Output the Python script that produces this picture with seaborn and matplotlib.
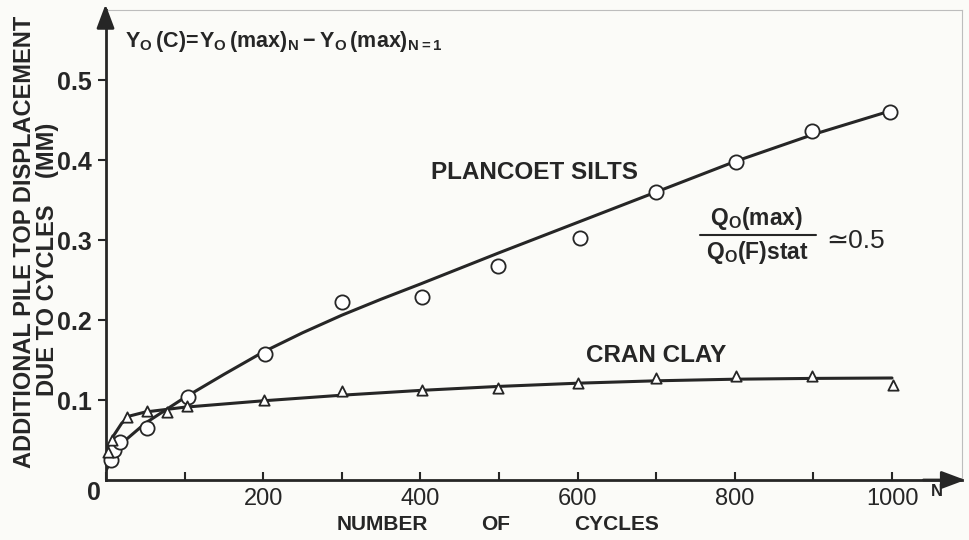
import matplotlib
matplotlib.use("Agg")
import matplotlib.pyplot as plt
import seaborn as sns
import pandas as pd

# ---- data ----
plan_n = [6, 10, 18, 52, 104, 202, 300, 402, 499, 603, 700, 801, 898, 997]
plan_y = [0.025, 0.038, 0.047, 0.065, 0.104, 0.158, 0.222, 0.229, 0.267, 0.302, 0.360, 0.397, 0.436, 0.460]

cran_n = [2, 8, 27, 52, 77, 103, 201, 300, 402, 499, 600, 700, 801, 898, 1001]
cran_y = [0.035, 0.050, 0.079, 0.086, 0.085, 0.093, 0.100, 0.111, 0.113, 0.115, 0.121, 0.127, 0.130, 0.130, 0.119]

plan_fit_n = [0, 10, 25, 50, 100, 150, 200, 250, 300, 350, 400, 500, 600, 700, 800, 900, 1000]
plan_fit_y = [0.012, 0.030, 0.050, 0.071, 0.103, 0.132, 0.160, 0.184, 0.206, 0.226, 0.245, 0.284, 0.322, 0.360, 0.398, 0.432, 0.462]

cran_fit_n = [0, 5, 10, 20, 30, 50, 75, 100, 150, 200, 300, 400, 500, 600, 700, 800, 900, 1000]
cran_fit_y = [0.036, 0.046, 0.056, 0.071, 0.080, 0.085, 0.088, 0.091, 0.095, 0.099, 0.106, 0.112, 0.117, 0.121, 0.124, 0.126, 0.127, 0.1275]

x_ticks = [0, 100, 200, 300, 400, 500, 600, 700, 800, 900, 1000]
x_tick_labels = ["", "", "200", "", "400", "", "600", "", "800", "", "1000"]
y_ticks = [0.1, 0.2, 0.3, 0.4, 0.5]
y_tick_labels = ["0.1", "0.2", "0.3", "0.4", "0.5"]

# ---- style ----
sns.set_theme(style="white")
plt.rcParams['font.family'] = ['Liberation Sans', 'DejaVu Sans']
plt.rcParams['mathtext.default'] = 'regular'
INK = "#262626"
BG = "#fbfbf8"

fig = plt.figure(figsize=(9.69, 5.40), dpi=100, facecolor=BG)
ax = fig.add_axes([106/969, 60/540, (962-106)/969, (480-10)/540])
ax.set_facecolor(BG)

x_max = (962 - 106) / 0.786
y_max = 470 / 800
ax.set_xlim(0, x_max)
ax.set_ylim(0, y_max)

pf = pd.DataFrame({"N": plan_fit_n, "Y": plan_fit_y})
cf = pd.DataFrame({"N": cran_fit_n, "Y": cran_fit_y})
pp = pd.DataFrame({"N": plan_n, "Y": plan_y})
cp = pd.DataFrame({"N": cran_n, "Y": cran_y})

sns.lineplot(data=pf, x="N", y="Y", ax=ax, color=INK, lw=2.2, zorder=2)
sns.lineplot(data=cf, x="N", y="Y", ax=ax, color=INK, lw=2.2, zorder=2)
sns.scatterplot(data=pp, x="N", y="Y", ax=ax, marker="o", s=105, facecolor="white",
                edgecolor=INK, linewidth=1.3, zorder=3, clip_on=False)
sns.scatterplot(data=cp, x="N", y="Y", ax=ax, marker="^", s=55, facecolor="white",
                edgecolor=INK, linewidth=1.3, zorder=3, clip_on=False)

# spines
for s in ["left", "bottom"]:
    ax.spines[s].set_color(INK)
    ax.spines[s].set_linewidth(2.0)
for s in ["top", "right"]:
    ax.spines[s].set_color("#bdbdbd")
    ax.spines[s].set_linewidth(0.8)

# arrows on axes
ax.annotate("", xy=(106/969 - 0.0005, 0.997), xytext=(106/969 - 0.0005, 0.95),
            xycoords="figure fraction",
            arrowprops=dict(arrowstyle="-|>,head_width=0.45,head_length=1.2", color=INK, lw=2))
ax.annotate("", xy=(0.999, 60/540), xytext=(0.95, 60/540), xycoords="figure fraction",
            arrowprops=dict(arrowstyle="-|>,head_width=0.45,head_length=1.2", color=INK, lw=2))

# ticks
ax.set_xticks(x_ticks)
ax.set_xticklabels(x_tick_labels)
ax.set_yticks(y_ticks)
ax.set_yticklabels(y_tick_labels)
ax.tick_params(axis="x", direction="in", length=6, width=1.5, color=INK, labelsize=17,
               labelcolor=INK, pad=6, bottom=True)
ax.tick_params(axis="y", direction="out", length=6, width=1.5, color=INK, labelsize=18,
               labelcolor=INK, pad=4, left=True)
for t in ax.get_yticklabels():
    t.set_fontweight("bold")
ax.set_xlabel("")
ax.set_ylabel("")

# origin "0" and "N"
fig.text(94/969, 1 - 493/540, "0", fontsize=18, fontweight="bold", color=INK,
         ha="center", va="center")
fig.text(937/969, 1 - 492/540, "N", fontsize=12, fontweight="bold", color=INK,
         ha="center", va="center")

# x axis title
for word, xp in [("NUMBER", 382), ("OF", 496), ("CYCLES", 617)]:
    fig.text(xp/969, 1 - 525/540, word, fontsize=15, fontweight="bold", color=INK,
             ha="center", va="center")

# y axis title (two lines)
fig.text(25/969, 1 - 242/540, "ADDITIONAL PILE TOP DISPLACEMENT", rotation=90,
         fontsize=17, fontweight="bold", color=INK, ha="center", va="center")
fig.text(48/969, 1 - 259/540, "DUE TO CYCLES    (MM)", rotation=90,
         fontsize=17, fontweight="bold", color=INK, ha="center", va="center")

# formula
fig.text(125/969, 1 - 42/540,
         r"$Y_O\,(C)\!=\!Y_O\,(max)_N - Y_O\,(max)_{N=1}$",
         fontsize=15.5, fontweight="bold", color=INK, ha="left", va="center")

# series labels
ax.text(545, 0.384, "PLANCOET SILTS", fontsize=17.5, fontweight="bold", color=INK,
        ha="center", va="center")
ax.text(700, 0.156, "CRAN CLAY", fontsize=17.5, fontweight="bold", color=INK,
        ha="center", va="center")

# ratio annotation
fig.text(757/969, 1 - 218/540, r"$Q_O(max)$", fontsize=16.5, fontweight="bold",
         color=INK, ha="center", va="center")
fig.text(757/969, 1 - 253/540, r"$Q_O(F)stat$", fontsize=16.5, fontweight="bold",
         color=INK, ha="center", va="center")
fig.add_artist(plt.Line2D([700/969, 816/969], [1 - 235/540, 1 - 235/540],
                          color=INK, lw=1.5))
fig.text(826/969, 1 - 241/540, "≃0.5", fontsize=19, color=INK,
         family=["Liberation Sans", "DejaVu Sans"], ha="left", va="center")

fig.savefig("out.png", dpi=100, facecolor=BG)
